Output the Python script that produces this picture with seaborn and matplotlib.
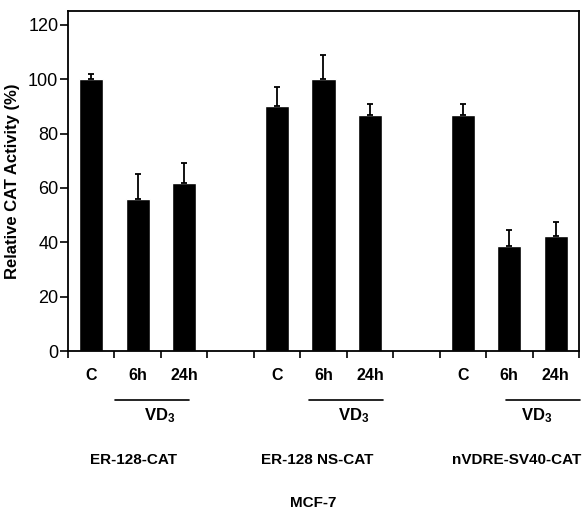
import numpy as np
import pandas as pd
import matplotlib
matplotlib.use("Agg")
import matplotlib.pyplot as plt
import seaborn as sns

# ----------- Data -----------

groups = ["ER-128-CAT", "ER-128 NS-CAT", "nVDRE-SV40-CAT"]
conditions = ["C", "6h", "24h"]
activity = [100, 56, 62, 90, 100, 87, 87, 38.5, 42.5]
error_up = [2, 9, 7, 7, 9, 4, 4, 6, 5]
y_ticks = [0, 20, 40, 60, 80, 100, 120]

# annotation placement (slot units, one per group)
vd3_line_start = [0.51, 4.69, 8.93]
vd3_text_x = [1.48, 5.66, 9.6]
group_label_x = [0.9, 4.87, 9.16]

# ----------- Build dataframe -----------

rows = []
for gi, g in enumerate(groups):
    for ci, c in enumerate(conditions):
        k = gi * 3 + ci
        rows.append({"group": g, "cond": c, "pos": gi * 4 + ci,
                     "activity": activity[k], "err": error_up[k]})
df = pd.DataFrame(rows)

# ----------- Plot -----------

sns.set_style("ticks", {"text.color": "black", "axes.labelcolor": "black",
                        "xtick.color": "black", "ytick.color": "black",
                        "axes.edgecolor": "black"})
plt.rcParams["font.family"] = ["Liberation Sans", "DejaVu Sans"]
plt.rcParams["mathtext.fontset"] = "custom"
plt.rcParams["mathtext.bf"] = "Liberation Sans:bold"
plt.rcParams["mathtext.rm"] = "Liberation Sans"

fig = plt.figure(figsize=(5.86, 5.11), dpi=100)
ax = fig.add_axes([0.116, 0.313, 0.872, 0.665])

sns.barplot(data=df, x="pos", y="activity", native_scale=True, color="black",
            width=0.52, errorbar=None, saturation=1, ax=ax)
ax.errorbar(df["pos"], df["activity"], yerr=[np.zeros(len(df)), df["err"]],
            fmt="none", ecolor="black", elinewidth=1.3, capsize=2.5, capthick=1.3)

ax.set_xlim(-0.5, 10.5)
ax.set_ylim(0, 125)
ax.set_yticks(y_ticks)
ax.set_yticklabels([str(v) for v in y_ticks], fontsize=13)
ax.set_xticks(np.arange(-0.5, 11, 1))
ax.set_xticklabels([])
ax.set_xticks(df["pos"], minor=True)
ax.set_xticklabels(df["cond"], minor=True, fontsize=11.5, fontweight="bold")
ax.tick_params(axis="x", which="major", direction="out", length=5, width=1.2)
ax.tick_params(axis="x", which="minor", length=0, pad=12)
ax.tick_params(axis="y", direction="out", length=6, width=1.2, pad=1)
for s in ax.spines.values():
    s.set_linewidth(1.3)
    s.set_color("black")

ax.set_xlabel("")
ax.set_ylabel("Relative CAT Activity (%)", fontsize=12, fontweight="bold", labelpad=6)

tr = ax.get_xaxis_transform()
for gi, g in enumerate(groups):
    ax.plot([vd3_line_start[gi], vd3_line_start[gi] + 1.6], [-0.144, -0.144],
            color="black", lw=1.2, transform=tr, clip_on=False)
    ax.text(vd3_text_x[gi], -0.19, r"$\mathbf{VD_3}$", transform=tr,
            ha="center", va="center", fontsize=12)
    ax.text(group_label_x[gi], -0.32, g, transform=tr, ha="center", va="center",
            fontsize=11, fontweight="bold")

ax.text(4.77, -0.447, "MCF-7", transform=tr, ha="center", va="center",
        fontsize=11, fontweight="bold")

fig.savefig("out.png", dpi=100)
